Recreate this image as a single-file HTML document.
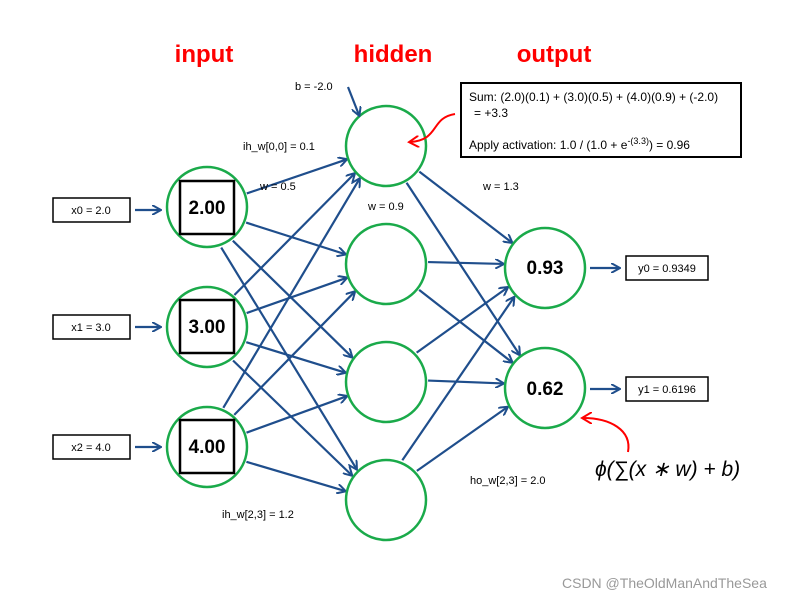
<!DOCTYPE html>
<html><head><meta charset="utf-8"><style>
body{margin:0;background:#fff;width:800px;height:600px;overflow:hidden}
svg text{font-family:"Liberation Sans",sans-serif}
</style></head><body>
<svg id="s" width="800" height="600" viewBox="0 0 800 600" xmlns="http://www.w3.org/2000/svg">
<defs><marker id="a" markerWidth="10" markerHeight="10" refX="8" refY="5" orient="auto" markerUnits="userSpaceOnUse"><path d="M0,0 L9,5 L0,10" fill="none" stroke="#1f4e8c" stroke-width="2"/></marker>
<marker id="r" markerWidth="12" markerHeight="12" refX="9" refY="6" orient="auto" markerUnits="userSpaceOnUse"><path d="M0,0 L10,6 L0,12" fill="none" stroke="#f00" stroke-width="2"/></marker></defs>
<g font-weight="bold" fill="#f00" font-size="24" text-anchor="middle">
<text x="204" y="62">input</text><text x="393" y="62">hidden</text><text x="554" y="62">output</text></g>
<g id="lines" stroke="#1f4e8c" stroke-width="2.2" fill="none"></g>
<g id="circ" stroke="#1aaa4a" stroke-width="2.5" fill="none"></g>
<g stroke="#000" stroke-width="2.5" fill="none">
<rect x="180" y="181" width="54" height="53"/><rect x="180" y="300" width="54" height="53"/><rect x="180" y="420" width="54" height="53"/></g>
<g font-weight="bold" font-size="19" text-anchor="middle">
<text x="207" y="214">2.00</text><text x="207" y="333">3.00</text><text x="207" y="453">4.00</text>
<text x="545" y="274">0.93</text><text x="545" y="395">0.62</text></g>
<g stroke="#000" stroke-width="1.5" fill="#fff">
<rect x="53" y="198" width="77" height="24"/><rect x="53" y="315" width="77" height="24"/><rect x="53" y="435" width="77" height="24"/>
<rect x="626" y="256" width="82" height="24"/><rect x="626" y="377" width="82" height="24"/>
<rect x="461" y="83" width="280" height="74" stroke-width="2"/></g>
<g font-size="11">
<text x="91" y="214" text-anchor="middle">x0 = 2.0</text><text x="91" y="331" text-anchor="middle">x1 = 3.0</text><text x="91" y="451" text-anchor="middle">x2 = 4.0</text>
<text x="667" y="272" text-anchor="middle">y0 = 0.9349</text><text x="667" y="393" text-anchor="middle">y1 = 0.6196</text>
<text x="469" y="101" font-size="12">Sum: (2.0)(0.1) + (3.0)(0.5) + (4.0)(0.9) + (-2.0)</text>
<text x="474" y="117" font-size="12">=  +3.3</text>
<text x="469" y="149" font-size="12">Apply activation: 1.0 / (1.0 + e<tspan dy="-5" font-size="9">-(3.3)</tspan><tspan dy="5">)  = 0.96</tspan></text>
<text x="295" y="90">b = -2.0</text><text x="243" y="150">ih_w[0,0] = 0.1</text><text x="260" y="190">w = 0.5</text>
<text x="368" y="210">w = 0.9</text><text x="483" y="190">w = 1.3</text><text x="470" y="484">ho_w[2,3] = 2.0</text><text x="222" y="518">ih_w[2,3] = 1.2</text></g>
<text x="595" y="476" font-family="'Liberation Serif',serif" font-style="italic" font-size="21">ϕ(∑(x ∗ w)  + b)</text>
<text x="562" y="588" font-size="14" fill="#999">CSDN @TheOldManAndTheSea</text>
<g stroke="#1f4e8c" stroke-width="2.2" fill="none">
<line x1="135" y1="210" x2="160" y2="210" marker-end="url(#a)"/><line x1="135" y1="327" x2="160" y2="327" marker-end="url(#a)"/><line x1="135" y1="447" x2="160" y2="447" marker-end="url(#a)"/>
<line x1="590" y1="268" x2="619" y2="268" marker-end="url(#a)"/><line x1="590" y1="389" x2="619" y2="389" marker-end="url(#a)"/>
<line x1="348" y1="87" x2="359" y2="115" marker-end="url(#a)"/></g>
<path d="M455,114 C430,118 440,140 410,142" stroke="#f00" stroke-width="2" fill="none" marker-end="url(#r)"/>
<path d="M628,452 C632,430 610,418 583,418" stroke="#f00" stroke-width="2" fill="none" marker-end="url(#r)"/>
</svg>
<script>
var NS="http://www.w3.org/2000/svg";
var I=[[207,207],[207,327],[207,447]],H=[[386,146],[386,264],[386,382],[386,500]],O=[[545,268],[545,388]],R=40;
var c=document.getElementById("circ"),l=document.getElementById("lines");
I.concat(H,O).forEach(function(p){var e=document.createElementNS(NS,"circle");e.setAttribute("cx",p[0]);e.setAttribute("cy",p[1]);e.setAttribute("r",R);c.appendChild(e);});
function ln(a,b,off){var dx=b[0]-a[0],dy=b[1]-a[1],d=Math.hypot(dx,dy),ux=dx/d,uy=dy/d,px=-uy*off,py=ux*off;
var e=document.createElementNS(NS,"line");e.setAttribute("x1",a[0]+ux*(R+2)+px);e.setAttribute("y1",a[1]+uy*(R+2)+py);
e.setAttribute("x2",b[0]-ux*(R+2)+px);e.setAttribute("y2",b[1]-uy*(R+2)+py);e.setAttribute("marker-end","url(#a)");l.appendChild(e);}
I.forEach(function(a,i){H.forEach(function(b,j){ln(a,b,(j-i)*3);});});
H.forEach(function(a,i){O.forEach(function(b,j){ln(a,b,(j-i)*3);});});
</script>
</body></html>
